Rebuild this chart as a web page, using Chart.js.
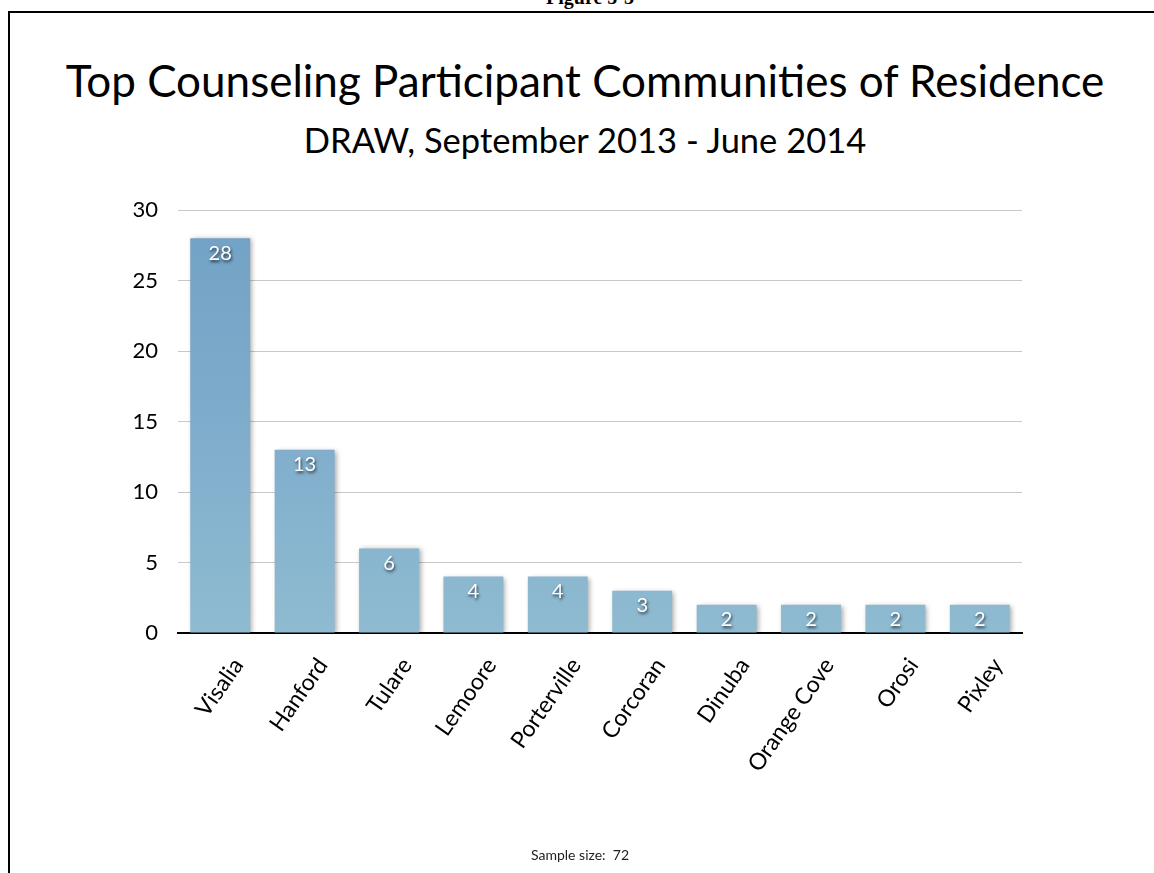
<!DOCTYPE html>
<html>
<head>
<meta charset="utf-8">
<script src="https://cdn.jsdelivr.net/npm/chart.js@4"></script>
<style>
  html, body { margin: 0; padding: 0; background: #fff; }
  body { width: 1154px; height: 873px; position: relative; overflow: hidden; }
  .fig { position: absolute; top: -13px; left: 0; width: 1180px; text-align: center;
         font: bold 20px "Liberation Serif", serif; line-height: 20px; color: #000; }
  .frame { position: absolute; top: 11px; left: 8px; width: 1160px; height: 880px;
           border-top: 2px solid #000; border-left: 2px solid #000; }
  .wrap { position: absolute; left: 0; top: 0; width: 1154px; height: 873px; }
  .title { position: absolute; left: 0; width: 1170px; text-align: center; color: #000;
           font-family: Lato, "Open Sans", sans-serif; white-space: nowrap; }
  .t1 { top: 54px; font-size: 44px; line-height: 52px; }
  .t2 { top: 119px; font-size: 34.5px; line-height: 42px; }
  .note { position: absolute; top: 846px; left: 0; width: 1160px; text-align: center;
          font: 14px Lato, sans-serif; color: #222; }
</style>
</head>
<body>
<div class="fig">Figure 5-3</div>
<div class="frame"></div>
<div class="title t1">Top Counseling Participant Communities of Residence</div>
<div class="title t2">DRAW, September 2013 - June 2014</div>
<div class="wrap"><canvas id="c" width="1154" height="873"></canvas></div>
<div class="note">Sample size:&nbsp; 72</div>
<script>
const communities = ['Visalia', 'Hanford', 'Tulare', 'Lemoore', 'Porterville', 'Corcoran', 'Dinuba', 'Orange Cove', 'Orosi', 'Pixley'];
const participants = [28, 13, 6, 4, 4, 3, 2, 2, 2, 2];
const yTicks = [0, 5, 10, 15, 20, 25, 30];

const FONT = 'Lato, "Open Sans", sans-serif';

// soft drop shadow under the bars
const barShadow = {
  id: 'barShadow',
  beforeDatasetsDraw(chart) {
    const ctx = chart.ctx;
    ctx.save();
    ctx.shadowColor = 'rgba(0,0,0,0.35)';
    ctx.shadowBlur = 5;
    ctx.shadowOffsetX = 2;
    ctx.shadowOffsetY = 1;
  },
  afterDatasetsDraw(chart) {
    chart.ctx.restore();
  }
};

// value labels inside the top of each bar
const valueLabels = {
  id: 'valueLabels',
  afterDatasetsDraw(chart) {
    const ctx = chart.ctx;
    const meta = chart.getDatasetMeta(0);
    ctx.save();
    ctx.font = '20px ' + FONT;
    ctx.fillStyle = '#fff';
    ctx.textAlign = 'center';
    ctx.textBaseline = 'middle';
    ctx.shadowColor = 'rgba(0,0,0,0.7)';
    ctx.shadowBlur = 3;
    ctx.shadowOffsetX = 1;
    ctx.shadowOffsetY = 2;
    meta.data.forEach((bar, i) => {
      ctx.fillText(String(participants[i]), bar.x, bar.y + 15);
    });
    ctx.restore();
  }
};

function barFill(context) {
  const area = context.chart.chartArea;
  if (!area) return '#7eaacb';
  const g = context.chart.ctx.createLinearGradient(0, area.top, 0, area.bottom);
  g.addColorStop(0, '#71a1c5');
  g.addColorStop(0.5, '#7eaccb');
  g.addColorStop(1, '#8fbbd1');
  return g;
}

new Chart(document.getElementById('c'), {
  type: 'bar',
  data: {
    labels: communities,
    datasets: [{
      data: participants,
      backgroundColor: barFill,
      borderWidth: 0,
      categoryPercentage: 1,
      barPercentage: 0.71
    }]
  },
  options: {
    responsive: false,
    animation: false,
    layout: { padding: { left: 100, right: 132, top: 210, bottom: 0 } },
    plugins: {
      legend: { display: false },
      tooltip: { enabled: false }
    },
    scales: {
      x: {
        grid: { display: false, drawTicks: false },
        border: { display: true, color: '#000', width: 2 },
        ticks: {
          color: '#000',
          font: { family: FONT, size: 23 },
          minRotation: 55,
          maxRotation: 55,
          padding: 20,
          labelOffset: 18
        },
        afterFit(scale) { scale.height = 240; }
      },
      y: {
        min: 0,
        max: 30,
        afterBuildTicks(scale) { scale.ticks = yTicks.map(v => ({ value: v })); },
        grid: { color: '#c8c8c8', lineWidth: 1, drawTicks: false },
        border: { display: false },
        ticks: {
          color: '#000',
          font: { family: FONT, size: 22 },
          padding: 20
        },
        afterFit(scale) { scale.width = 78; }
      }
    }
  },
  plugins: [barShadow, valueLabels]
});
</script>
</body>
</html>
